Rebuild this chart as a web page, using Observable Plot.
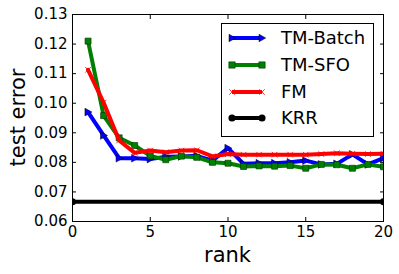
<!DOCTYPE html>
<html><head><meta charset="utf-8">
<script src="https://cdn.jsdelivr.net/npm/d3@7"></script>
<script src="https://cdn.jsdelivr.net/npm/@observablehq/plot@0.6"></script>
<style>body{margin:0;background:#fff}svg{display:block}</style>
</head><body><div id="chart"></div>
<script>
const ranks = [1,2,3,4,5,6,7,8,9,10,11,12,13,14,15,16,17,18,19,20];
const tmBatch = [0.0970,0.0891,0.0814,0.0814,0.0811,0.0819,0.0820,0.0822,0.0806,0.0848,0.0795,0.0797,0.0797,0.0800,0.0806,0.0793,0.0795,0.0827,0.0793,0.0814];
const tmSFO   = [0.1210,0.0958,0.0883,0.0857,0.0822,0.0809,0.0821,0.0817,0.0800,0.0797,0.0786,0.0788,0.0787,0.0789,0.0780,0.0793,0.0792,0.0780,0.0793,0.0785];
const fm      = [0.1113,0.1002,0.0874,0.0832,0.0840,0.0834,0.0840,0.0841,0.0820,0.0828,0.0826,0.0826,0.0826,0.0826,0.0826,0.0828,0.0831,0.0829,0.0828,0.0829];
const krrRanks = [0,20];
const krr = [0.0667,0.0667];
const seriesNames = ["TM-Batch","TM-SFO","FM","KRR"];
const colors = ["#0000ff","#008000","#ff0000","#000000"];
const xTicks = [0,5,10,15,20];
const yTicks = [0.06,0.07,0.08,0.09,0.10,0.11,0.12,0.13];

const triRight = {draw(ctx, size){ const r = Math.sqrt(size)/1.6; ctx.moveTo(r,0); ctx.lineTo(-r*0.8, -r); ctx.lineTo(-r*0.8, r); ctx.closePath(); }};
const xMark = {draw(ctx, size){ const r = Math.sqrt(size)/2.2; ctx.moveTo(-r,-r); ctx.lineTo(r,r); ctx.moveTo(-r,r); ctx.lineTo(r,-r); }};

const mk = (xs, ys) => xs.map((x,i)=>({x, y: ys[i]}));
const dBatch = mk(ranks, tmBatch), dSFO = mk(ranks, tmSFO), dFM = mk(ranks, fm), dKRR = mk(krrRanks, krr);
const font = "DejaVu Sans";

const plot = Plot.plot({
  width: 399, height: 274,
  marginLeft: 72, marginRight: 16, marginTop: 14, marginBottom: 53,
  style: {fontFamily: font, fontSize: "15px", background: "#fff", color: "#000"},
  x: {domain: [0,20]},
  y: {domain: [0.06,0.13]},
  marks: [
    Plot.line(dBatch, {x:"x", y:"y", stroke: colors[0], strokeWidth: 4, clip: true}),
    Plot.dot(dBatch, {x:"x", y:"y", symbol: triRight, r: 3.5, fill: colors[0], stroke: "#000", strokeWidth: 0.5, clip: true}),
    Plot.line(dSFO, {x:"x", y:"y", stroke: colors[1], strokeWidth: 4, clip: true}),
    Plot.dot(dSFO, {x:"x", y:"y", symbol: "square", r: 3.4, fill: colors[1], stroke: "#003000", strokeWidth: 0.6, clip: true}),
    Plot.line(dFM, {x:"x", y:"y", stroke: colors[2], strokeWidth: 4, clip: true}),
    Plot.dot(dFM, {x:"x", y:"y", symbol: xMark, r: 3.5, stroke: colors[2], strokeWidth: 0.8, clip: true}),
    Plot.line(dKRR, {x:"x", y:"y", stroke: colors[3], strokeWidth: 4, clip: true}),
    Plot.dot(dKRR, {x:"x", y:"y", r: 3.5, fill: colors[3], clip: true}),
    Plot.frame({stroke: "#000", strokeWidth: 1}),
    Plot.axisX(xTicks, {anchor: "bottom", tickSize: -4, tickPadding: 9, label: null, tickFormat: d3.format("d")}),
    Plot.axisX(xTicks, {anchor: "top", tickSize: -4, label: null, tickFormat: () => ""}),
    Plot.axisY(yTicks, {anchor: "left", tickSize: -4, tickPadding: 9, label: null, tickFormat: d3.format(".2f")}),
    Plot.axisY(yTicks, {anchor: "right", tickSize: -4, label: null, tickFormat: () => ""})
  ]
});
document.getElementById("chart").appendChild(plot);

const svg = d3.select(plot);
// axis labels
svg.append("text").attr("x", 227.5).attr("y", 262).attr("text-anchor","middle")
  .attr("font-family", font).attr("font-size", 21).text("rank");
svg.append("text").attr("transform","translate(25,117.5) rotate(-90)").attr("text-anchor","middle")
  .attr("font-family", font).attr("font-size", 21).text("test error");

// legend
const lg = svg.append("g");
lg.append("rect").attr("x",221.5).attr("y",23.5).attr("width",152).attr("height",113)
  .attr("fill","#fff").attr("stroke","#000").attr("stroke-width",1);
const rowY = [38, 65, 92, 118];
const sym = [d3.symbol(triRight, 36), d3.symbol(d3.symbolSquare, 40), d3.symbol(xMark, 36), d3.symbol(d3.symbolCircle, 40)];
seriesNames.forEach((name, i) => {
  const y = rowY[i];
  lg.append("line").attr("x1",232).attr("x2",262).attr("y1",y).attr("y2",y)
    .attr("stroke", colors[i]).attr("stroke-width", 4);
  [232,262].forEach(x => {
    const p = lg.append("path").attr("d", sym[i]()).attr("transform", `translate(${x},${y})`);
    if (i === 2) p.attr("fill","none").attr("stroke", colors[i]).attr("stroke-width", 0.8);
    else if (i === 1) p.attr("fill", colors[i]).attr("stroke","#003000").attr("stroke-width",0.6);
    else if (i === 0) p.attr("fill", colors[i]).attr("stroke","#000").attr("stroke-width",0.5);
    else p.attr("fill", colors[i]);
  });
  lg.append("text").attr("x", 281).attr("y", y).attr("dy","0.36em").attr("text-anchor","start")
    .attr("font-family", font).attr("font-size", 18).text(name);
});
</script></body></html>
